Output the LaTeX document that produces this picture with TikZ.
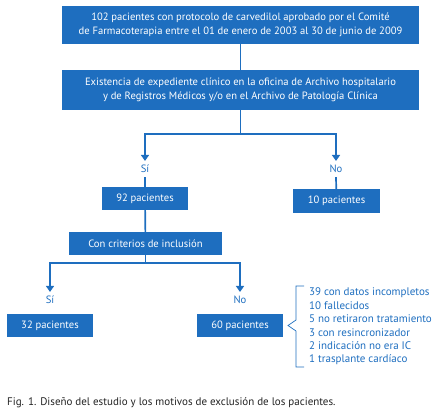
\documentclass[tikz,border=0pt]{standalone}
\usepackage{fontspec}
\setmainfont{PT Sans}
\usepackage{tikz}
\usetikzlibrary{arrows.meta,positioning,calc}
\definecolor{flBlue}{HTML}{1E6EBF}
\definecolor{flText}{HTML}{222222}
\tikzset{
  blbox/.style={rectangle, fill=flBlue, text=white, align=center, inner sep=0pt, font=\fontsize{10.6}{13.5}\selectfont},
  blline/.style={draw=flBlue, line width=1.7pt},
  blarr/.style={blline, -{Triangle[length=6pt,width=8pt]}},
  choice/.style={text=flBlue, inner xsep=2pt, inner ysep=4pt, font=\fontsize{10.6}{12}\selectfont},
  brace/.style={draw=flBlue, line width=0.7pt}
}
\begin{document}
\begin{tikzpicture}[x=1pt,y=-1pt]
  \useasboundingbox (0,0) rectangle (435,416);
  % boxes
  \node[blbox, minimum width=357pt, minimum height=38pt] (prot) at (240.5,25) {102 pacientes con protocolo de carvedilol aprobado por el Comité\\de Farmacoterapia entre el 01 de enero de 2003 al 30 de junio de 2009};
  \node[blbox, minimum width=357pt, minimum height=40pt] (exped) at (240.5,90) {Existencia de expediente clínico en la oficina de Archivo hospitalario\\y de Registros Médicos y/o en el Archivo de Patología Clínica};
  \node[choice] (si1) at (145,169) {Sí};
  \node[choice] (no1) at (336,169) {No};
  \node[blbox, minimum width=86pt, minimum height=23pt] (p92) at (145,198.5) {92 pacientes};
  \node[blbox, minimum width=87pt, minimum height=24pt] (p10) at (336.5,201) {10 pacientes};
  \node[blbox, minimum width=153pt, minimum height=23pt] (crit) at (145.5,243.5) {Con criterios de inclusión};
  \node[choice] (si2) at (50,300) {Sí};
  \node[choice] (no2) at (240,300) {No};
  \node[blbox, minimum width=86pt, minimum height=23pt] (p32) at (50,325.5) {32 pacientes};
  \node[blbox, minimum width=86pt, minimum height=23pt] (p60) at (240,325.5) {60 pacientes};
  \node[choice, anchor=west, align=left, inner sep=0pt, font=\fontsize{11}{13.4}\selectfont] (motivos) at (309,326.5) {39 con datos incompletos\\10 fallecidos\\5 no retiraron tratamiento\\3 con resincronizador\\2 indicación no era IC\\1 trasplante cardíaco};
  \node[anchor=west, text=flText, inner sep=0pt, font=\fontsize{11}{13}\selectfont] (caption) at (7,403) {Fig. 1. Diseño del estudio y los motivos de exclusión de los pacientes.};
  % connectors
  \coordinate (split1) at (exped.south |- 0,134);
  \coordinate (split2) at (crit.south |- 0,263);
  \draw[blline] (prot) -- (exped);
  \draw[blline] (exped) -- (split1);
  \draw[blarr] (split1) -| (si1.north);
  \draw[blarr] (split1) -| (no1.north);
  \draw[blline] (si1.south) -- (p92);
  \draw[blline] (no1.south) -- (p10);
  \draw[blline] (p92) -- (crit);
  \draw[blline] (crit) -- (split2);
  \draw[blarr] (split2) -| (si2.north);
  \draw[blarr] (split2) -| (no2.north);
  % brace
  \draw[brace] (304,286) -- (296,286) -- (296,320) -- (288,325.5) -- (296,331) -- (296,367) -- (304,367);
\end{tikzpicture}
\end{document}
